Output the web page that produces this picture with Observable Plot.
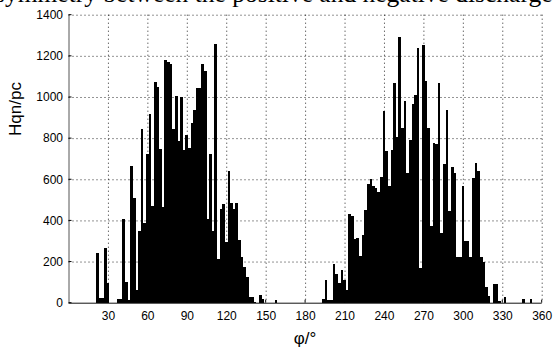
<!DOCTYPE html>
<html><head><meta charset="utf-8">
<script src="https://cdn.jsdelivr.net/npm/d3@7"></script>
<script src="https://cdn.jsdelivr.net/npm/@observablehq/plot@0.6"></script>
<style>
body{margin:0;background:#fff;}
#wrap{position:relative;width:553px;height:350px;overflow:hidden;background:#fff;}
#wrap svg{position:absolute;left:0;top:0;}
#title{position:absolute;left:-5px;top:-15px;font-family:"Liberation Serif","Times New Roman",serif;font-size:25.5px;line-height:18px;height:18px;white-space:nowrap;color:#000;z-index:2;}
</style></head>
<body>
<div id="wrap"><div id="title">symmetry between the positive and negative discharges</div></div>
<script>
// bin centres (degrees, 2° bins) and pulse counts
const binCenters = [22,24,26,28,30,38,40,42,44,46,48,50,52,54,56,58,60,62,64,66,68,70,72,74,76,78,80,82,84,86,88,90,92,94,96,98,100,102,104,106,108,110,112,114,116,118,120,122,124,126,128,130,132,134,136,138,140,142,146,148,158,
194,196,198,200,202,204,206,208,210,212,214,216,218,220,222,224,226,228,230,232,234,236,238,240,242,244,246,248,250,252,254,256,258,260,262,264,266,268,270,272,274,276,278,280,282,284,286,288,290,292,294,296,298,300,302,304,306,308,310,312,314,316,318,320,324,326,328,332,346,352];
const counts = [240,25,25,267,94,20,20,407,99,13,664,507,62,350,846,389,724,917,472,1074,1050,749,467,1180,1170,1160,843,1005,788,998,742,815,750,872,937,1042,1042,1160,1128,407,721,350,1258,212,455,478,297,642,486,455,486,305,224,175,126,29,29,5,36,20,13,
20,110,15,15,190,140,95,160,110,60,430,420,308,316,227,329,450,577,600,569,560,540,613,933,737,569,742,1069,804,1290,848,981,632,791,966,1010,1237,167,1253,1079,848,373,775,772,1069,337,674,937,447,658,630,224,224,569,301,301,224,605,677,642,224,196,78,33,89,89,8,30,20,20];
const binWidth = 2;
const xTicks = [30,60,90,120,150,180,210,240,270,300,330,360];
const yTicks = [0,200,400,600,800,1000,1200,1400];
const xLabel = "φ/°";
const yLabel = "Hqn/pc";

const bins = binCenters.map((c, i) => ({x1: c - binWidth / 2, x2: c + binWidth / 2, n: counts[i]}));

const plot = Plot.plot({
  width: 553, height: 350,
  marginLeft: 68.5, marginRight: 11.3, marginTop: 14.7, marginBottom: 47.3,
  x: {domain: [0, 360]},
  y: {domain: [0, 1400]},
  style: {fontFamily: "'Liberation Sans', Arial, sans-serif", fontSize: "12px", background: "#fff", color: "#000"},
  marks: [
    Plot.gridX(xTicks, {stroke: "#000", strokeOpacity: 0.85, strokeDasharray: "1,3"}),
    Plot.gridY(yTicks.filter(d => d > 0), {stroke: "#000", strokeOpacity: 0.85, strokeDasharray: "1,3"}),
    Plot.rectY(bins, {x1: "x1", x2: "x2", y: "n", fill: "#000", inset: 0, shapeRendering: "crispEdges"}),
    Plot.ruleX([0], {stroke: "#555"}),
    Plot.ruleY([0], {stroke: "#111"}),
    Plot.axisX(xTicks, {tickSize: 0, tickPadding: 8, label: null, fontSize: 12, tickFormat: d => String(d)}),
    Plot.axisY(yTicks, {tickSize: 0, tickPadding: 6, label: null, fontSize: 12, tickFormat: d => String(d)})
  ]
});
document.getElementById("wrap").append(plot);

const svg = d3.select(plot);
const sx = plot.scale("x"), sy = plot.scale("y");
const x0 = sx.apply(0), y0 = sy.apply(0);
// inward MATLAB-style ticks
xTicks.forEach(t => {
  svg.append("line").attr("x1", sx.apply(t)).attr("x2", sx.apply(t)).attr("y1", y0).attr("y2", y0 - 3)
    .attr("stroke", "#000");
});
yTicks.forEach(t => {
  svg.append("line").attr("x1", x0).attr("x2", x0 + 3).attr("y1", sy.apply(t)).attr("y2", sy.apply(t))
    .attr("stroke", "#000");
});
svg.append("text").text(xLabel)
  .attr("x", (sx.apply(0) + sx.apply(360)) / 2).attr("y", 344)
  .attr("text-anchor", "middle").attr("font-size", 17).attr("fill", "#000");
svg.append("text").text(yLabel)
  .attr("transform", "translate(21,109) rotate(-90)")
  .attr("text-anchor", "middle").attr("font-size", 17).attr("fill", "#000");
</script>
</body></html>
